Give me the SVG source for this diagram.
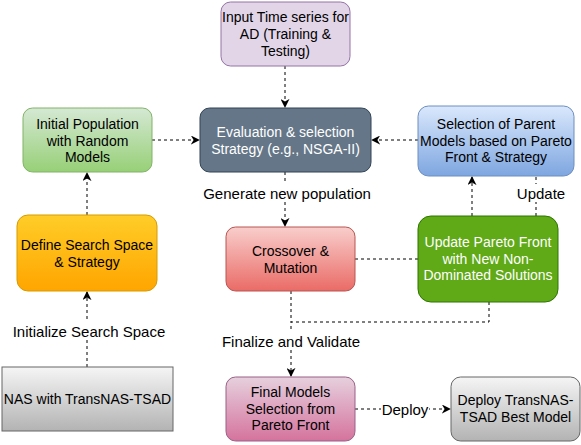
<svg xmlns="http://www.w3.org/2000/svg" width="581" height="445" viewBox="0 0 581 445">
<defs>
<linearGradient id="gPurple" x1="0" y1="0" x2="0" y2="1"><stop offset="0" stop-color="#e1d5e7"/><stop offset="1" stop-color="#e1d5e7"/></linearGradient>
<linearGradient id="gGreen" x1="0" y1="0" x2="0" y2="1"><stop offset="0" stop-color="#d5e8d4"/><stop offset="1" stop-color="#97d077"/></linearGradient>
<linearGradient id="gBlue" x1="0" y1="0" x2="0" y2="1"><stop offset="0" stop-color="#dae8fc"/><stop offset="1" stop-color="#7ea6e0"/></linearGradient>
<linearGradient id="gOrange" x1="0" y1="0" x2="0" y2="1"><stop offset="0" stop-color="#ffcd28"/><stop offset="1" stop-color="#ffa500"/></linearGradient>
<linearGradient id="gGray" x1="0" y1="0" x2="0" y2="1"><stop offset="0" stop-color="#f5f5f5"/><stop offset="1" stop-color="#b3b3b3"/></linearGradient>
<linearGradient id="gRed" x1="0" y1="0" x2="0" y2="1"><stop offset="0" stop-color="#f8cecc"/><stop offset="1" stop-color="#ea6b66"/></linearGradient>
<linearGradient id="gPink" x1="0" y1="0" x2="0" y2="1"><stop offset="0" stop-color="#e6d0de"/><stop offset="1" stop-color="#d5739d"/></linearGradient>
<marker id="arr" viewBox="0 0 10 10" refX="9" refY="5" markerWidth="9" markerHeight="9" markerUnits="userSpaceOnUse" orient="auto">
<path d="M0,0 L10,5 L0,10 L3,5 Z" fill="#000"/>
</marker>
</defs>
<style>
text{font-family:"Liberation Sans",Arial,sans-serif;font-size:14px;text-anchor:middle;fill:#000}
.w{fill:#ffffff}
.e{font-size:15px}
.c{fill:none;stroke:#000;stroke-width:1;stroke-dasharray:3 3}
.lbl{fill:#ffffff}
</style>
<rect width="581" height="445" fill="#ffffff"/>

<g id="connectors">
<path class="c" d="M285,66 V107" marker-end="url(#arr)"/>
<path class="c" d="M152,140 H199" marker-end="url(#arr)"/>
<path class="c" d="M418,140 H372" marker-end="url(#arr)"/>
<path class="c" d="M285,172 V226" marker-end="url(#arr)"/>
<path class="c" d="M87,215 V173" marker-end="url(#arr)"/>
<path class="c" d="M87,367 V292" marker-end="url(#arr)"/>
<path class="c" d="M355,259 H418"/>
<path class="c" d="M472,216 V177" marker-end="url(#arr)"/>
<path class="c" d="M536,216 V176"/>
<path class="c" d="M489,302 V322 H291 V376" marker-end="url(#arr)"/>
<path class="c" d="M291,291 V322"/>
<path class="c" d="M355,409 H450" marker-end="url(#arr)"/>
<rect class="lbl" x="202" y="184" width="170" height="18"/>
<text class="e" x="287" y="198.5">Generate new population</text>
<rect class="lbl" x="516" y="184" width="50" height="18"/>
<text class="e" x="541" y="198.5">Update</text>
<rect class="lbl" x="11" y="322" width="156" height="18"/>
<text class="e" x="89" y="336.5">Initialize Search Space</text>
<rect class="lbl" x="221" y="332" width="140" height="18"/>
<text class="e" x="291" y="346.5">Finalize and Validate</text>
<rect class="lbl" x="381" y="400" width="48" height="18"/>
<text class="e" x="405" y="414.5">Deploy</text>
</g>

<g id="input">
<rect x="221" y="2" width="129" height="64" rx="9.6" fill="url(#gPurple)" stroke="#9673a6"/>
<text x="285.5" y="22">Input Time series for</text>
<text x="285.5" y="39">AD (Training &amp;</text>
<text x="285.5" y="56">Testing)</text>
</g>

<g id="evaluation">
<rect x="200" y="108" width="171" height="64" rx="9.6" fill="#647687" stroke="#314354"/>
<text class="w" x="285.5" y="137">Evaluation &amp; selection</text>
<text class="w" x="285.5" y="154">Strategy (e.g., NSGA-II)</text>
</g>

<g id="initial">
<rect x="23" y="108" width="129" height="64" rx="9.6" fill="url(#gGreen)" stroke="#82b366"/>
<text x="87.5" y="129">Initial Population</text>
<text x="87.5" y="146">with Random</text>
<text x="87.5" y="162">Models</text>
</g>

<g id="selection">
<rect x="418" y="106" width="156" height="70" rx="10.5" fill="url(#gBlue)" stroke="#6c8ebf"/>
<text x="496" y="129">Selection of Parent</text>
<text x="496" y="146">Models based on Pareto</text>
<text x="496" y="162">Front &amp; Strategy</text>
</g>

<g id="define">
<rect x="17" y="215" width="140" height="76" rx="11" fill="url(#gOrange)" stroke="#d79b00"/>
<text x="87" y="250">Define Search Space</text>
<text x="87" y="267">&amp; Strategy</text>
</g>

<g id="nas">
<rect x="2" y="367" width="171" height="64" fill="url(#gGray)" stroke="#666666"/>
<text x="87.5" y="404">NAS with TransNAS-TSAD</text>
</g>

<g id="crossover">
<rect x="226" y="227" width="129" height="64" rx="9.6" fill="url(#gRed)" stroke="#b85450"/>
<text x="290.5" y="256">Crossover &amp;</text>
<text x="290.5" y="273">Mutation</text>
</g>

<g id="update">
<rect x="418" y="216" width="140" height="86" rx="12.9" fill="#60a917" stroke="#2d7600"/>
<text class="w" x="488" y="247">Update Pareto Front</text>
<text class="w" x="488" y="264">with New Non-</text>
<text class="w" x="488" y="280">Dominated Solutions</text>
</g>

<g id="final">
<rect x="226" y="377" width="129" height="64" rx="9.6" fill="url(#gPink)" stroke="#996185"/>
<text x="290.5" y="397">Final Models</text>
<text x="290.5" y="414">Selection from</text>
<text x="290.5" y="430">Pareto Front</text>
</g>

<g id="deploy">
<rect x="451" y="377" width="129" height="64" rx="9.6" fill="url(#gGray)" stroke="#666666"/>
<text x="515.5" y="405">Deploy TransNAS-</text>
<text x="515.5" y="422">TSAD Best Model</text>
</g>
</svg>
